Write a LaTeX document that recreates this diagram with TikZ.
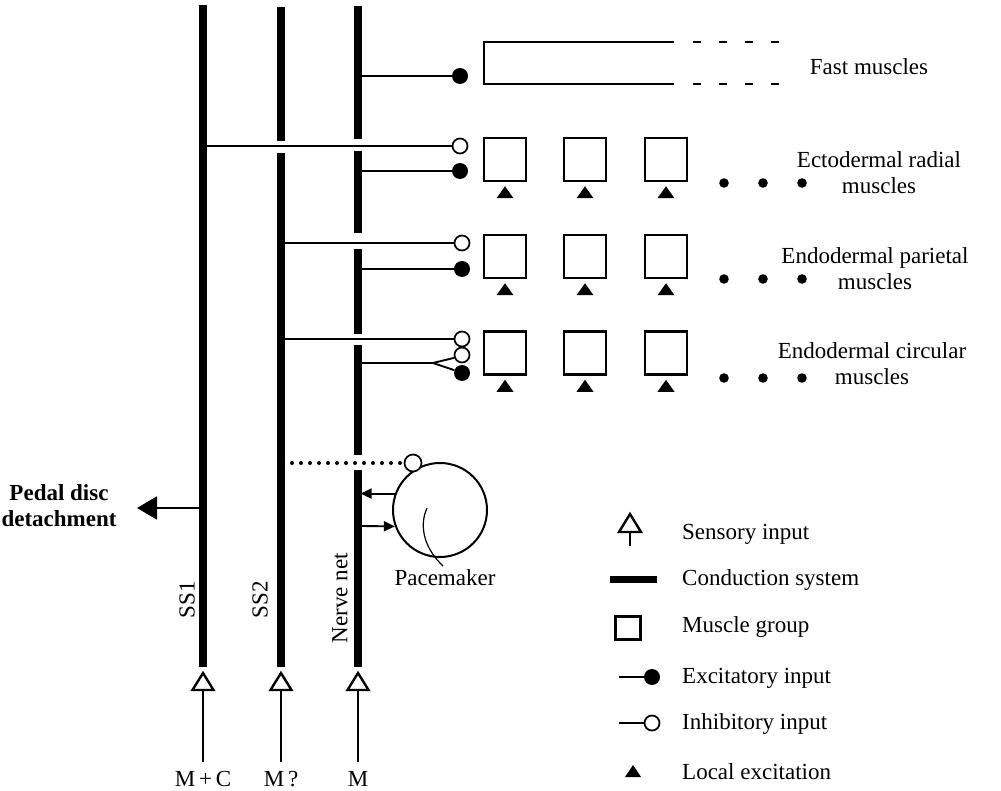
\documentclass[tikz,border=0pt]{standalone}
\usepackage{fontspec}
\setmainfont{Liberation Serif}
\usetikzlibrary{arrows.meta,calc}
\begin{document}
\begin{tikzpicture}[x=1pt,y=-1pt,
  cond/.style={line width=7.5pt},
  thin/.style={line width=1.9pt},
  exc/.style={circle,fill=black,inner sep=0pt,minimum size=16pt},
  inh/.style={circle,draw,line width=1.7pt,fill=white,inner sep=0pt,minimum size=15pt},
  musc/.style={draw,line width=2.5pt,minimum width=42pt,minimum height=43pt,inner sep=0pt},
  lbl/.style={font=\fontsize{23}{26}\selectfont, align=center, inner sep=0pt},
  lgd/.style={font=\fontsize{23}{26}\selectfont, anchor=west, inner sep=0pt},
  dotline/.style={line width=4pt, line cap=round, dash pattern=on 0pt off 9pt},
  sens/.style={line width=2.4pt, fill=white, line join=miter},
  loctri/.style={fill=black},
  fastdash/.style={line width=2.5pt, dash pattern=on 8pt off 18pt},
  smallarrow/.style={thin,-{Triangle[length=11pt,width=10pt]}},
  ]
\useasboundingbox (0,0) rectangle (1001,791);

% ---------- conduction systems ----------
\coordinate (s1t) at (203,5);   \coordinate (s1b) at (203,667);
\coordinate (s2t) at (281,7);   \coordinate (s2b) at (281,667);
\coordinate (nnt) at (358,6);   \coordinate (nnb) at (358,667);
\draw[cond] (s1t) -- (s1b);
\draw[cond] (s2t) -- (281,141) (281,153) -- (s2b);
\draw[cond] (nnt) -- (358,139) (358,151) -- (358,233) (358,249) -- (358,334)
            (358,345) -- (358,455) (358,470) -- (nnb);

% ---------- synapse symbols ----------
\node[exc] (ef) at (460,76) {};
\node[inh] (i1) at (460,146) {};
\node[exc] (e1) at (460,171) {};
\node[inh] (i2) at (462,243) {};
\node[exc] (e2) at (462,269) {};
\node[inh] (i3) at (462,339) {};
\node[inh] (i4) at (462,355) {};
\node[exc] (e3) at (462,373) {};

\coordinate (fk) at (433,363);
\draw[thin] (358,76) -- (ef.west);
\draw[thin] (203,146) -- (i1.west);
\draw[thin] (358,171) -- (e1.west);
\draw[thin] (281,243) -- (i2.west);
\draw[thin] (358,269) -- (e2.west);
\draw[thin] (281,339) -- (i3.west);
\draw[thin] (358,363) -- (fk) -- (i4.200);
\draw[thin] (fk) -- (e3.160);

% ---------- fast muscles ----------
\coordinate (fr1) at (674,42); \coordinate (fr2) at (674,84);
\draw[line width=2.5pt] (fr1) -- (484,42) -- (484,84) -- (fr2);
\draw[fastdash] (693,42) -- (780,42);
\draw[fastdash] (693,84) -- (780,84);
\node[lbl] (fastl) at (869,67) {Fast muscles};

% ---------- muscle groups ----------
\foreach \r/\yy in {1/159.5, 2/256.5, 3/353}{
  \foreach \c/\xx in {1/505, 2/585, 3/666}{
    \node[musc] (m\r\c) at (\xx,\yy) {};
    \fill[loctri] ($(m\r\c.south)+(0,4)$) -- ++(8.5,12) -- ++(-17,0) -- cycle;
  }
}
\foreach \yy in {183,279,378}{
  \foreach \xx in {724,763,802}{ \fill (\xx,\yy) circle (4.8pt); }
}
\node[lbl] (r1l) at (879,173) {Ectodermal radial\\muscles};
\node[lbl] (r2l) at (875,269) {Endodermal parietal\\muscles};
\node[lbl] (r3l) at (872,364) {Endodermal circular\\muscles};

% ---------- pacemaker ----------
\node[circle,draw,line width=2pt,minimum size=94pt,inner sep=0pt] (pm) at (440,510) {};
\node[inh,minimum size=17pt] (pi) at (413,463) {};
\draw[dotline] (283,463) -- (pi.west);
\draw[smallarrow] (pm.160) -- ++(-34.3,0);
\draw[smallarrow] (362,526) -- (pm.200);
\draw[line width=1.2pt] (427,508) .. controls (418,528) and (426,550) .. (443,566);
\node[lbl] (pml) at (445,578) {Pacemaker};

% ---------- pedal disc ----------
\node[lbl,font=\fontsize{23}{26}\selectfont\bfseries] (pd) at (59,506) {Pedal disc\\detachment};
\coordinate (pdtip) at (137,508);
\draw[thin,-{Triangle[length=20pt,width=23pt]}] (203,508) -- (pdtip);

% ---------- vertical labels ----------
\node[lbl,rotate=90] (l1) at (187,600) {SS1};
\node[lbl,rotate=90] (l2) at (260,600) {SS2};
\node[lbl,rotate=90] (l3) at (340,598) {Nerve net};

% ---------- sensory inputs ----------
\foreach \xx/\name/\txt in {203/a/{M\,+\,C}, 281/b/{M\,?}, 358/c/M}{
  \coordinate (t\name) at (\xx,673);
  \coordinate (b\name) at (\xx,690);
  \draw[thin] (b\name) -- (\xx,762);
  \draw[sens] (t\name) -- ++(10.5,17) -- ++(-21,0) -- cycle;
  \node[lbl] (in\name) at (\xx,779) {\txt};
}

% ---------- legend ----------
\draw[sens] (630,514) -- ++(11,18) -- ++(-22,0) -- cycle;
\draw[line width=2.2pt] (630,532) -- (630,546);
\node[lgd] (lg1) at (682,534) {Sensory input};

\draw[line width=7pt] (610,579) -- (657,579);
\node[lgd] (lg2) at (682,580) {Conduction system};

\node[draw,line width=2.5pt,minimum width=25pt,minimum height=23pt,inner sep=0pt] (lgbox) at (628,628) {};
\node[lgd] (lg3) at (682,627) {Muscle group};

\node[exc] (lge) at (652,677) {};
\draw[thin] (619,677) -- (lge.west);
\node[lgd] (lg4) at (682,678) {Excitatory input};

\node[inh] (lgi) at (652,723) {};
\draw[thin] (619,723) -- (lgi.west);
\node[lgd] (lg5) at (682,724) {Inhibitory input};

\fill[loctri] (633,765) -- ++(8,12) -- ++(-16,0) -- cycle;
\node[lgd] (lg6) at (682,772) {Local excitation};
\end{tikzpicture}
\end{document}
